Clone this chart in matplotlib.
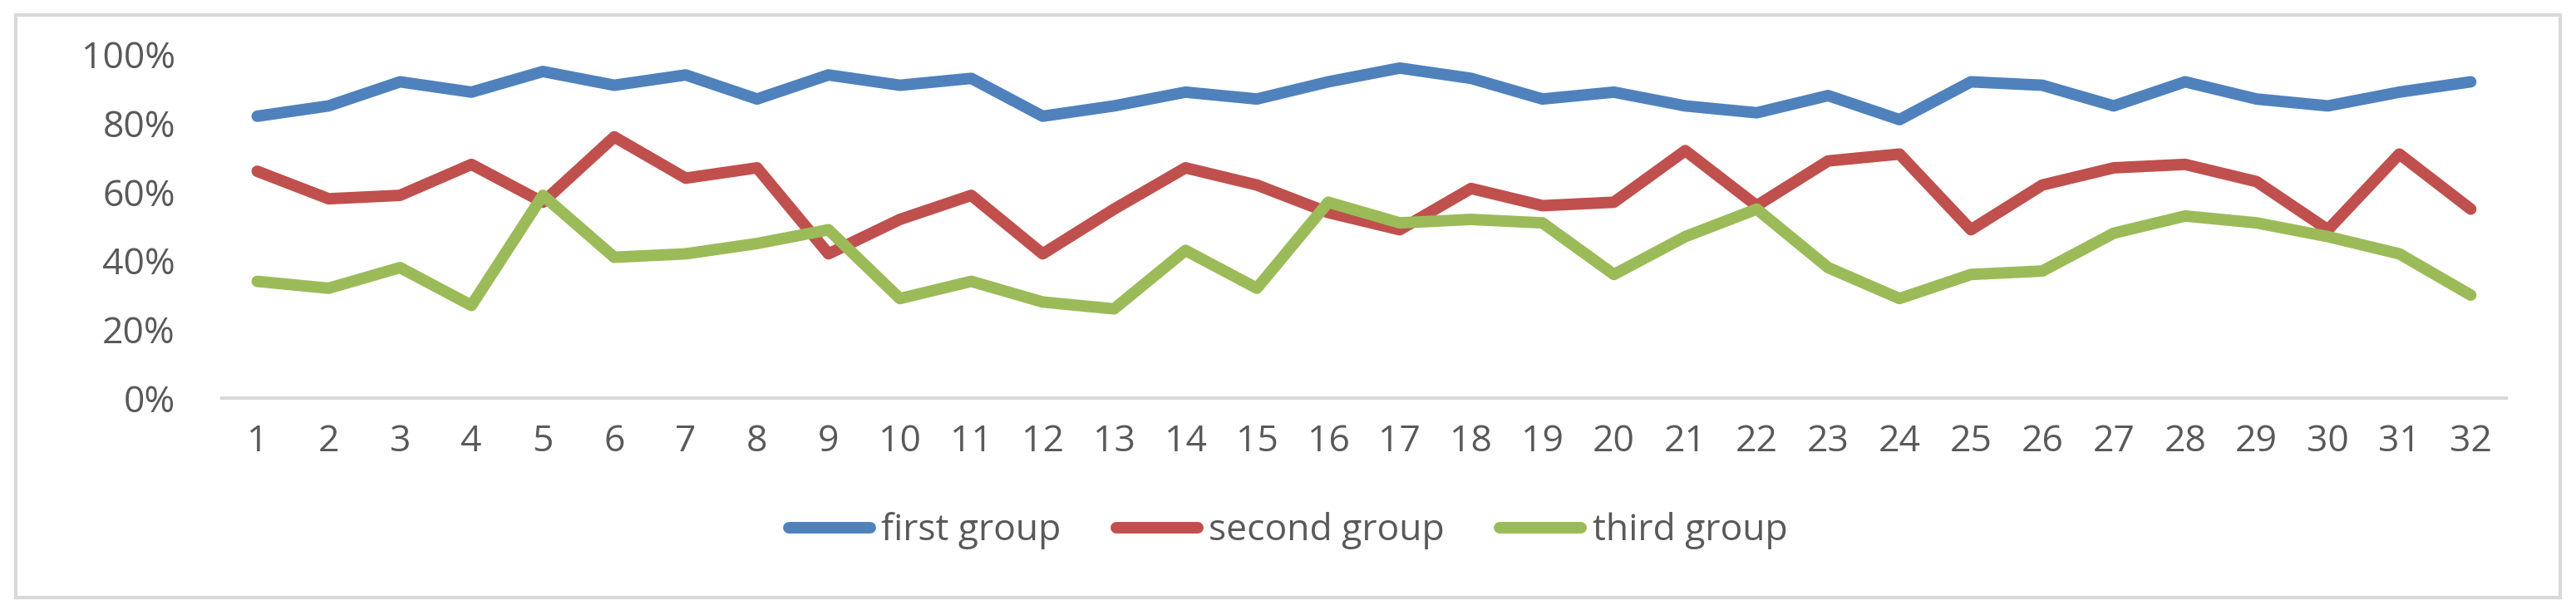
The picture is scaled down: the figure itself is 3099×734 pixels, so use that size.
import matplotlib
matplotlib.use("Agg")
import matplotlib.pyplot as plt
from matplotlib.ticker import PercentFormatter
from matplotlib.patches import Rectangle

x = list(range(1, 33))
first = [82, 85, 92, 89, 95, 91, 94, 87, 94, 91, 93, 82, 85, 89, 87, 92,
         96, 93, 87, 89, 85, 83, 88, 81, 92, 91, 85, 92, 87, 85, 89, 92]
second = [66, 58, 59, 68, 57, 76, 64, 67, 42, 52, 59, 42, 55, 67, 62, 54,
          49, 61, 56, 57, 72, 56, 69, 71, 49, 62, 67, 68, 63, 49, 71, 55]
third = [34, 32, 38, 27, 59, 41, 42, 45, 49, 29, 34, 28, 26, 43, 32, 57,
         51, 52, 51, 36, 47, 55, 38, 29, 36, 37, 48, 53, 51, 47, 42, 30]
names = ["first group", "second group", "third group"]
colors = ["#4F81BD", "#C0504D", "#9BBB59"]

plt.rcParams['font.family'] = ['Open Sans', 'DejaVu Sans']
fig = plt.figure(figsize=(30.99, 7.34), dpi=100)
fig.patches.append(Rectangle((0.006, 0.02), 0.988, 0.955, transform=fig.transFigure,
                             fill=False, edgecolor="#D9D9D9", linewidth=3))
ax = fig.add_axes([0.086, 0.347, 0.887, 0.564])
for vals, n, c in zip([first, second, third], names, colors):
    ax.plot(x, vals, color=c, lw=10, label=n, solid_joinstyle='round', solid_capstyle='round')
ax.set_ylim(0, 100)
ax.set_xlim(0.5, 32.5)
ax.set_yticks(range(0, 101, 20))
ax.yaxis.set_major_formatter(PercentFormatter(decimals=0))
ax.set_xticks(x)
for s in ["top", "right", "left"]:
    ax.spines[s].set_visible(False)
ax.spines["bottom"].set_color("#D9D9D9")
ax.spines["bottom"].set_linewidth(3)
ax.tick_params(length=0, labelsize=32, colors="#595959", pad=22)
ax.tick_params(axis='y', pad=40)
fig.legend(loc="center", bbox_to_anchor=(0.5, 0.13), ncol=3, frameon=False,
           fontsize=32, labelcolor="#595959", handlelength=2.2, handletextpad=0.3,
           columnspacing=1.5)
fig.savefig("out.png", dpi=100)
